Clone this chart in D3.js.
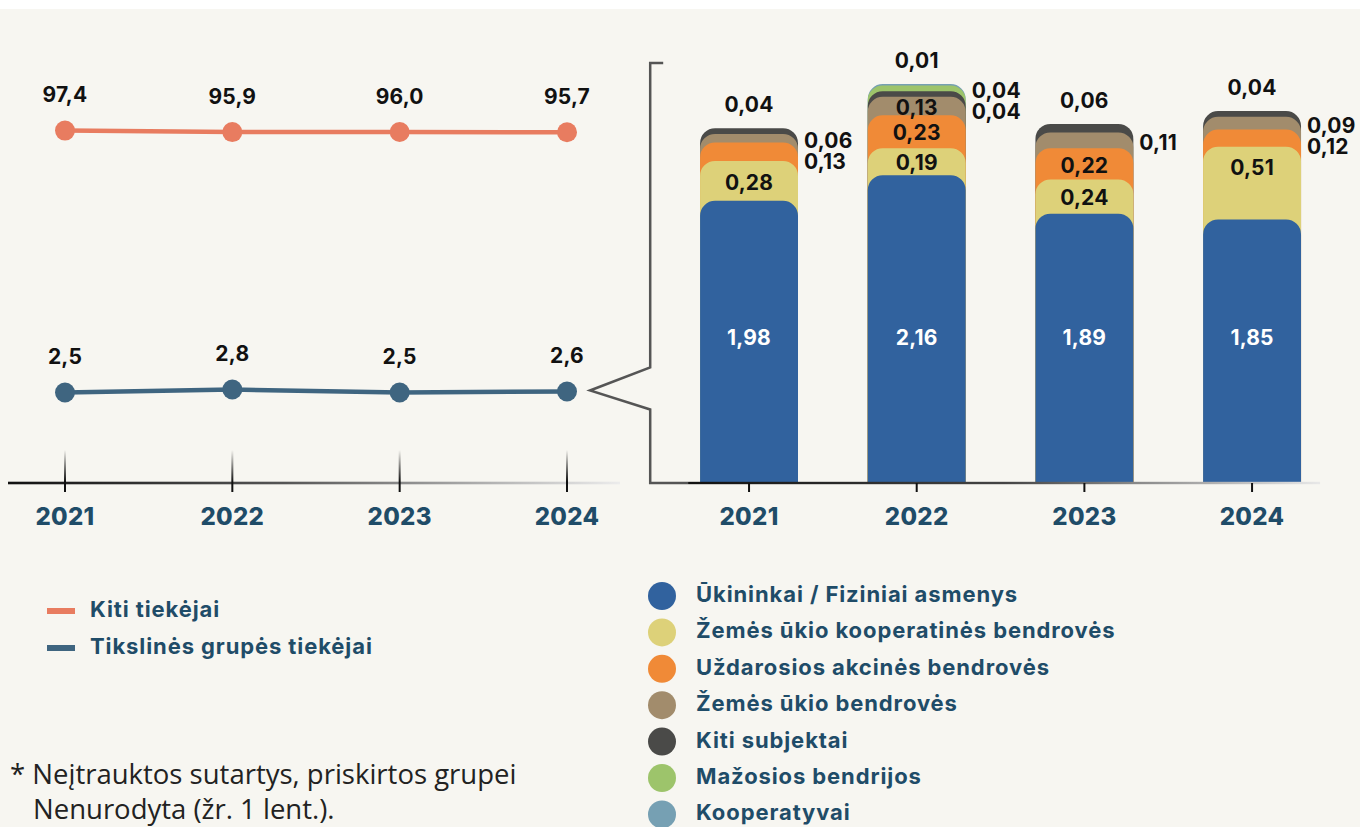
<!DOCTYPE html>
<html><head><meta charset="utf-8">
<script src="https://cdn.jsdelivr.net/npm/d3@7"></script>
<style>html,body{margin:0;padding:0;background:#fff;} svg{display:block}</style>
</head><body><svg id="c" width="1360" height="827"></svg>
<script>
// ---------- DATA ----------
const years = ["2021", "2022", "2023", "2024"];
const lineSeriesNames = ["Kiti tiekėjai", "Tikslinės grupės tiekėjai"];
const otherSuppliers = [97.4, 95.9, 96.0, 95.7];
const targetSuppliers = [2.5, 2.8, 2.5, 2.6];

const categories = [
  "Ūkininkai / Fiziniai asmenys",
  "Žemės ūkio kooperatinės bendrovės",
  "Uždarosios akcinės bendrovės",
  "Žemės ūkio bendrovės",
  "Kiti subjektai",
  "Mažosios bendrijos",
  "Kooperatyvai"
];
const farmers = [1.98, 2.16, 1.89, 1.85];
const coopCompanies = [0.28, 0.19, 0.24, 0.51];
const closedJSC = [0.13, 0.23, 0.22, 0.12];
const agriCompanies = [0.06, 0.13, 0.11, 0.09];
const otherEntities = [0.04, 0.04, 0.06, 0.04];
const smallPartnerships = [0, 0.04, 0, 0];
const cooperatives = [0, 0.01, 0, 0];
const footnoteLines = ["* Neįtrauktos sutartys, priskirtos grupei", "Nenurodyta (žr. 1 lent.)."];

// ---------- STYLE / LAYOUT ----------
const seriesValues = [farmers, coopCompanies, closedJSC, agriCompanies, otherEntities, smallPartnerships, cooperatives];
const colors = ["#31629e", "#ddd179", "#f08a37", "#a28c6c", "#4a4a48", "#9dc46b", "#76a0b3"];
const lineColors = ["#e87c60", "#3f6580"];
const teal = "#1f4c68";
const fmt = v => v.toFixed(2).replace(".", ",");
const fmt1 = v => v.toFixed(1).replace(".", ",");
// segments whose label sits to the right of the bar (others inside, topmost on top)
const rightLabelled = new Set(["0-2", "0-3", "1-4", "1-5", "2-3", "3-2", "3-3"]);

const svg = d3.select("#c");
svg.append("rect").attr("width", 1360).attr("height", 827).attr("fill", "#fff");
svg.append("rect").attr("y", 9).attr("width", 1360).attr("height", 818).attr("fill", "#f7f6f1");

const defs = svg.append("defs");
const baseY = 483;

// ---------- LEFT: line chart ----------
const xL = d3.scalePoint().domain(years).range([65, 567]);
const yTop = d3.scaleLinear().domain([90, 100]).range([138, 128]);
const yBot = d3.scaleLinear().domain([0, 5]).range([417.5, 367.5]);

const gh = defs.append("linearGradient").attr("id", "axL").attr("x1", 0).attr("x2", 1).attr("y1", 0).attr("y2", 0);
gh.append("stop").attr("offset", 0).attr("stop-color", "#111");
gh.append("stop").attr("offset", 0.45).attr("stop-color", "#555");
gh.append("stop").attr("offset", 1).attr("stop-color", "#ececec");
const gv = defs.append("linearGradient").attr("id", "tickV").attr("x1", 0).attr("x2", 0).attr("y1", 0).attr("y2", 1);
gv.append("stop").attr("offset", 0).attr("stop-color", "#111").attr("stop-opacity", 0);
gv.append("stop").attr("offset", 0.75).attr("stop-color", "#111").attr("stop-opacity", 1);
gv.append("stop").attr("offset", 1).attr("stop-color", "#111").attr("stop-opacity", 1);

svg.append("rect").attr("x", 8).attr("y", baseY - 1.3).attr("width", 612).attr("height", 2.6).attr("fill", "url(#axL)");
svg.selectAll(".tkL").data(years).join("rect")
  .attr("x", d => xL(d) - 1).attr("y", 450).attr("width", 2).attr("height", 42)
  .attr("fill", "url(#tickV)");

const yearFont = sel => sel.attr("font-family", "Inter, sans-serif").attr("font-weight", 800).attr("font-size", 24)
  .attr("letter-spacing", 0.3).attr("fill", teal).attr("text-anchor", "middle").attr("dominant-baseline", "middle");
svg.selectAll(".yrL").data(years).join("text").call(yearFont)
  .attr("x", d => xL(d)).attr("y", 518).text(d => d);

const lblFont = sel => sel.attr("font-family", "Inter, sans-serif").attr("font-weight", 700).attr("font-size", 21)
  .attr("letter-spacing", 0.2).attr("dominant-baseline", "middle");

const lineDefs = [
  {vals: otherSuppliers, y: yTop, color: lineColors[0]},
  {vals: targetSuppliers, y: yBot, color: lineColors[1]}
];
lineDefs.forEach(ld => {
  const pts = years.map((yr, i) => [xL(yr), ld.y(ld.vals[i])]);
  svg.append("path").attr("d", d3.line()(pts)).attr("fill", "none")
    .attr("stroke", ld.color).attr("stroke-width", 4.5);
  svg.selectAll(null).data(pts).join("circle")
    .attr("cx", d => d[0]).attr("cy", d => d[1]).attr("r", 10).attr("fill", ld.color);
  svg.selectAll(null).data(pts).join("text").call(lblFont)
    .attr("x", d => d[0]).attr("y", d => d[1] - 34).attr("text-anchor", "middle").attr("fill", "#111")
    .text((d, i) => fmt1(ld.vals[i]));
});

// ---------- RIGHT: stacked bars ----------
const xB = d3.scaleBand().domain(years).range([665.2, 1335.9]).paddingInner(0.416).paddingOuter(0.208);
const yB = d3.scaleLinear().domain([0, 2.8]).range([baseY, 84]);
const bw = xB.bandwidth();
const r = 15;

// bracket
const bx = xB.range()[0] - 15;
const tipX = xL("2024") + 23;
const tipY = yBot(targetSuppliers[3]) - 1;
svg.append("path")
  .attr("d", d3.line()([[bx + 13, yB(2.8) - 21], [bx, yB(2.8) - 21], [bx, tipY - 23], [tipX, tipY], [bx, tipY + 19], [bx, baseY], [xB("2021") - 12, baseY]]))
  .attr("fill", "none").attr("stroke", "#555").attr("stroke-width", 2.5);

const gr = defs.append("linearGradient").attr("id", "axR").attr("x1", 0).attr("x2", 1).attr("y1", 0).attr("y2", 0);
gr.append("stop").attr("offset", 0).attr("stop-color", "#111");
gr.append("stop").attr("offset", 0.5).attr("stop-color", "#444");
gr.append("stop").attr("offset", 1).attr("stop-color", "#e8e8e8");

const stacks = years.map((yr, i) => {
  let cum = 0;
  return seriesValues.map((s, k) => { const y0 = cum; cum += s[i]; return {yr, i, k, v: s[i], y0, y1: cum}; });
});

const topRounded = (x0, x1, yt, yb) =>
  `M${x0},${yb}L${x0},${yt + r}A${r},${r} 0 0 1 ${x0 + r},${yt}L${x1 - r},${yt}A${r},${r} 0 0 1 ${x1},${yt + r}L${x1},${yb}Z`;

stacks.forEach(st => {
  const g = svg.append("g");
  const segs = st.filter(d => d.v > 0).slice().reverse();
  g.selectAll("path").data(segs).join("path")
    .attr("d", d => topRounded(xB(d.yr), xB(d.yr) + bw, yB(d.y1), baseY))
    .attr("fill", d => colors[d.k]);
});

svg.append("rect").attr("x", xB("2021") - 12).attr("y", baseY - 1.2).attr("width", 632).attr("height", 2.4).attr("fill", "url(#axR)");
svg.selectAll(".tkR").data(years).join("line")
  .attr("x1", d => xB(d) + bw / 2).attr("x2", d => xB(d) + bw / 2).attr("y1", baseY).attr("y2", 492)
  .attr("stroke", "#111").attr("stroke-width", 2);
svg.selectAll(".yrR").data(years).join("text").call(yearFont)
  .attr("x", d => xB(d) + bw / 2).attr("y", 518).text(d => d);

// value labels
stacks.forEach(st => {
  const cx = xB(st[0].yr) + bw / 2;
  const segs = st.filter(d => d.v > 0);
  const topSeg = segs[segs.length - 1];
  let prevRight = -Infinity;
  segs.slice().reverse().forEach(d => {
    const key = d.i + "-" + d.k;
    const yt = yB(d.y1), yb = yB(d.y0);
    if (d === topSeg) {
      svg.append("text").call(lblFont).attr("x", cx).attr("y", yt - 22).attr("text-anchor", "middle")
        .attr("fill", "#111").text(fmt(d.v));
    } else if (rightLabelled.has(key)) {
      const yy = Math.max((yt + yb) / 2 + 4, prevRight + 21);
      prevRight = yy;
      svg.append("text").call(lblFont).attr("x", xB(d.yr) + bw + 6).attr("y", yy).attr("text-anchor", "start")
        .attr("fill", "#111").text(fmt(d.v));
    } else if (d.k === 0) {
      svg.append("text").call(lblFont).attr("x", cx).attr("y", yB(1.0) - 1).attr("text-anchor", "middle")
        .attr("fill", "#fff").text(fmt(d.v));
    } else {
      const yy = Math.min((yt + yb) / 2 + 3, yt + 23);
      svg.append("text").call(lblFont).attr("x", cx).attr("y", yy).attr("text-anchor", "middle")
        .attr("fill", "#111").text(fmt(d.v));
    }
  });
});

// ---------- LEGENDS ----------
const legFont = sel => sel.attr("dominant-baseline", "middle").attr("font-family", "Inter, sans-serif")
  .attr("font-weight", 700).attr("font-size", 22).attr("letter-spacing", 0.9).attr("fill", teal);
const legL = svg.append("g");
lineSeriesNames.forEach((n, i) => {
  const y = 611 + i * 37;
  legL.append("rect").attr("x", 47).attr("y", y - 3).attr("width", 28).attr("height", 6).attr("fill", lineColors[i]);
  legL.append("text").call(legFont).attr("x", 90).attr("y", y).text(n);
});
const legR = svg.append("g");
categories.forEach((n, i) => {
  const y = 596 + i * 36.4;
  legR.append("circle").attr("cx", 662).attr("cy", y).attr("r", 14).attr("fill", colors[i]);
  legR.append("text").call(legFont).attr("x", 696).attr("y", y).text(n);
});

// footnote
svg.selectAll(".fn").data(footnoteLines).join("text")
  .attr("x", (d, i) => i === 0 ? 10 : 33).attr("y", (d, i) => 777 + i * 35).attr("dominant-baseline", "middle")
  .attr("font-family", "'Open Sans', sans-serif").attr("font-weight", 400).attr("font-size", 27.5).attr("fill", "#222").text(d => d);
</script></body></html>
